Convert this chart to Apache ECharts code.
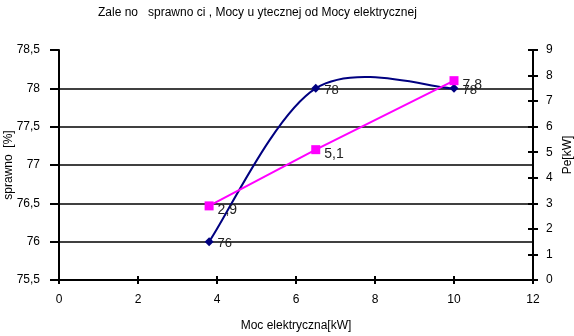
<!DOCTYPE html>
<html><head><meta charset="utf-8">
<script src="https://cdn.jsdelivr.net/npm/echarts@6/dist/echarts.min.js"></script>
<style>html,body{margin:0;padding:0;background:#fff}#c{width:574px;height:336px}</style>
</head><body><div id="c"></div>
<script>
const xPower = [3.8, 6.5, 10];
const efficiency = [76, 78, 78];
const usefulPower = [2.9, 5.1, 7.8];
const titleText = 'Zale no   sprawno ci , Mocy u ytecznej od Mocy elektrycznej';
const xName = 'Moc elektryczna[kW]';
const yLeftName = 'sprawno  [%]';
const yRightName = 'Pe[kW]';

const comma = v => String(v).replace('.', ',');
const font = 'Liberation Sans, Arial, sans-serif';
const effData = xPower.map((x, i) => [x, efficiency[i]]);

// Excel-style smoothed line (Catmull-Rom bezier) through the data points
function renderSmooth(params, api) {
  if (params.dataIndex !== 0) return null;
  const pts = effData.map(d => api.coord(d));
  const n = pts.length;
  const tan = pts.map((p, i) => {
    const a = pts[Math.max(0, i - 1)], b = pts[Math.min(n - 1, i + 1)];
    return [(b[0] - a[0]) / 6, (b[1] - a[1]) / 6];
  });
  let path = 'M' + pts[0][0] + ' ' + pts[0][1];
  for (let i = 0; i < n - 1; i++) {
    const c1 = [pts[i][0] + tan[i][0], pts[i][1] + tan[i][1]];
    const c2 = [pts[i + 1][0] - tan[i + 1][0], pts[i + 1][1] - tan[i + 1][1]];
    path += ' C' + c1[0] + ' ' + c1[1] + ' ' + c2[0] + ' ' + c2[1] + ' ' + pts[i + 1][0] + ' ' + pts[i + 1][1];
  }
  return { type: 'path', shape: { pathData: path }, style: { fill: null, stroke: '#000080', lineWidth: 2 } };
}

const tickStyle = { color: '#000', width: 2 };
const gridBox = { left: 59, right: 41, top: 50, bottom: 56, containLabel: false, outerBoundsMode: 'none' };
const chart = echarts.init(document.getElementById('c'));
chart.setOption({
  animation: false,
  backgroundColor: '#fff',
  title: { text: titleText, left: 93, top: 2, textStyle: { fontSize: 12, fontWeight: 'normal', color: '#000', fontFamily: font } },
  grid: [Object.assign({}, gridBox), Object.assign({}, gridBox)],
  xAxis: [
    {
      type: 'value', gridIndex: 0, min: 0, max: 12, interval: 2,
      name: xName, nameLocation: 'middle', nameGap: 40, nameMoveOverlap: false,
      nameTextStyle: { fontSize: 12, color: '#000', fontFamily: font },
      axisLine: { onZero: false, lineStyle: { color: '#000', width: 2 } },
      axisTick: { lineStyle: tickStyle, length: 4 },
      axisLabel: { fontSize: 12, color: '#000', fontFamily: font, margin: 14 },
      splitLine: { show: false }
    },
    {
      type: 'value', gridIndex: 1, min: 0, max: 12, interval: 2, position: 'bottom',
      axisLine: { show: false, onZero: false },
      axisTick: { show: true, inside: true, lineStyle: tickStyle, length: 4 },
      axisLabel: { show: false },
      splitLine: { show: false }
    }
  ],
  yAxis: [
    {
      type: 'value', gridIndex: 0, min: 75.5, max: 78.5, interval: 0.5, position: 'left',
      name: yLeftName, nameLocation: 'middle', nameGap: 44, nameRotate: 90, nameMoveOverlap: false,
      nameTextStyle: { fontSize: 12, color: '#000', fontFamily: font },
      axisLine: { show: true, onZero: false, lineStyle: { color: '#000', width: 2 } },
      axisTick: { show: true, lineStyle: tickStyle, length: 9 },
      axisLabel: { fontSize: 12, color: '#000', fontFamily: font, formatter: v => comma(v), margin: 19 },
      splitLine: { show: true, showMinLine: false, showMaxLine: false, lineStyle: { color: '#000', width: 1.5 } }
    },
    {
      type: 'value', gridIndex: 0, min: 0, max: 9, interval: 1, position: 'right',
      name: yRightName, nameLocation: 'middle', nameGap: 29, nameRotate: 90, nameMoveOverlap: false,
      nameTextStyle: { fontSize: 12, color: '#000', fontFamily: font, padding: [0, 0, 0, 20] },
      axisLine: { show: true, onZero: false, lineStyle: { color: '#000', width: 2 } },
      axisTick: { show: true, lineStyle: tickStyle, length: 5 },
      axisLabel: { fontSize: 12, color: '#000', fontFamily: font, margin: 13 },
      splitLine: { show: false }
    },
    {
      type: 'value', gridIndex: 1, min: 0, max: 9, interval: 1, position: 'right',
      axisLine: { show: false, onZero: false },
      axisTick: { show: true, inside: true, lineStyle: tickStyle, length: 5 },
      axisLabel: { show: false },
      splitLine: { show: false }
    }
  ],
  series: [
    {
      type: 'custom', xAxisIndex: 0, yAxisIndex: 0,
      data: effData, renderItem: renderSmooth, silent: true, z: 2
    },
    {
      type: 'line', xAxisIndex: 0, yAxisIndex: 0,
      data: effData,
      symbol: 'diamond', symbolSize: 9, z: 3,
      itemStyle: { color: '#000080' },
      lineStyle: { width: 0, opacity: 0 },
      label: { show: true, position: 'right', distance: 4, offset: [0, 2], fontSize: 13, color: '#222', fontFamily: font, formatter: p => comma(p.value[1]) }
    },
    {
      type: 'line', xAxisIndex: 0, yAxisIndex: 1,
      data: xPower.map((x, i) => [x, usefulPower[i]]),
      symbol: 'rect', symbolSize: 9, z: 4,
      itemStyle: { color: '#ff00ff' },
      lineStyle: { color: '#ff00ff', width: 2 },
      label: { show: true, position: 'right', distance: 4, offset: [0, 4], fontSize: 14, color: '#222', fontFamily: font, formatter: p => comma(p.value[1]) }
    }
  ]
});
</script></body></html>
